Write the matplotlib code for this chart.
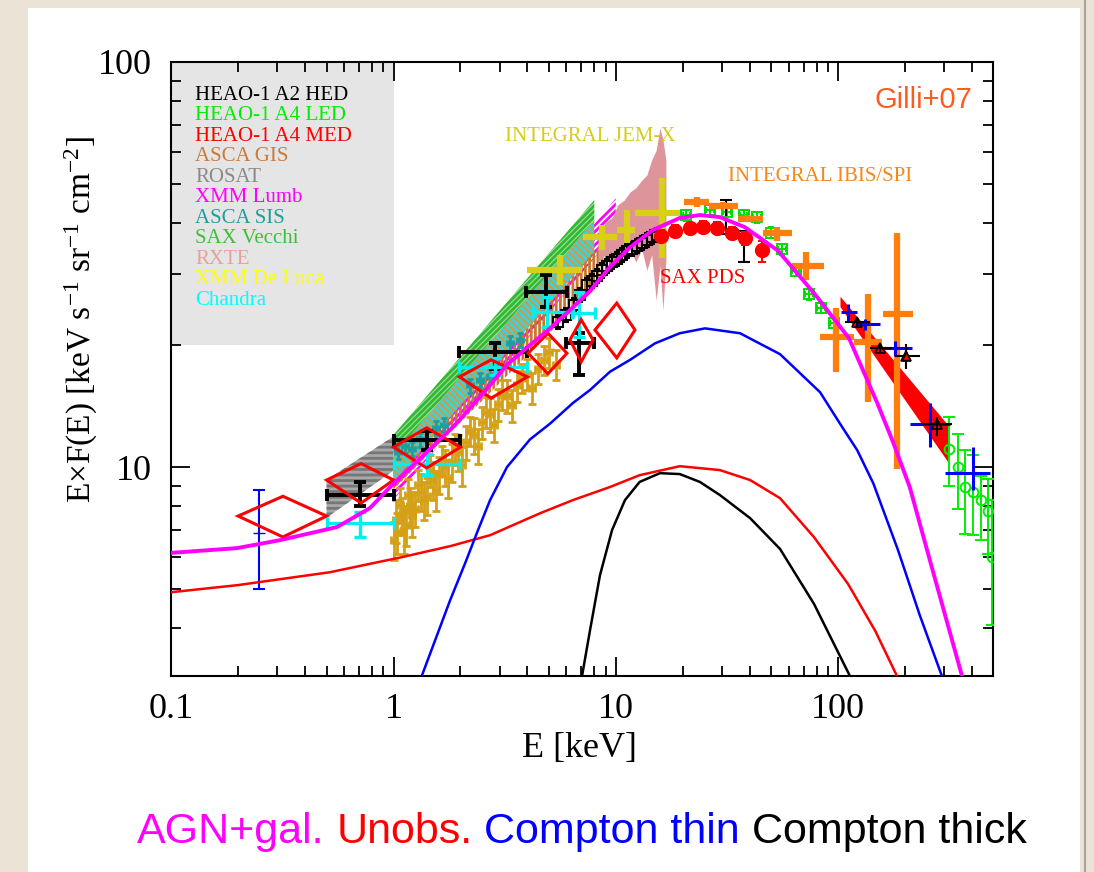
import numpy as np
import matplotlib.pyplot as plt
from matplotlib.patches import Rectangle
from matplotlib.lines import Line2D
from matplotlib.ticker import LogLocator, NullFormatter

plt.rcParams['font.family'] = 'Liberation Serif'
plt.rcParams['mathtext.fontset'] = 'custom'
plt.rcParams['mathtext.rm'] = 'Liberation Serif'
plt.rcParams['mathtext.it'] = 'Liberation Serif:italic'
plt.rcParams['hatch.linewidth'] = 2.0

# ---- model curves: E [keV], E*F(E) ----
agn_E = [0.1, 0.198, 0.308, 0.557, 0.783, 0.995, 1.32, 1.89, 2.53, 3.24, 4.11, 5.06, 6.22, 7.66,
         9.42, 11.6, 14.7, 19.4, 23.9, 29.4, 38.1, 53.7, 78.7, 112, 150, 177, 210, 264, 361]
agn_F = [6.14, 6.31, 6.60, 7.11, 7.92, 9.08, 10.5, 12.7, 15.2, 17.9, 20.0, 22.0, 24.4, 27.2,
         31.2, 34.9, 38.5, 41.2, 41.9, 41.4, 39.1, 34.2, 26.7, 20.8, 14.4, 11.5, 8.93, 5.66, 3.05]
thin_E = [1.34, 1.54, 1.80, 2.10, 2.40, 2.72, 3.24, 4.11, 5.06, 6.42, 7.66, 9.42, 11.6, 15.0,
          19.4, 25.2, 36.2, 54.8, 83.0, 102, 122, 144, 186, 233, 293]
thin_F = [3.05, 3.74, 4.70, 5.79, 6.99, 8.29, 10.0, 11.7, 12.8, 14.4, 15.5, 17.2, 18.4, 20.2,
          21.4, 22.0, 21.4, 19.0, 15.3, 12.8, 11.0, 9.12, 6.24, 4.31, 3.05]
unobs_E = [0.1, 0.198, 0.517, 1.10, 1.80, 2.72, 4.56, 6.42, 9.42, 12.8, 19.4, 29.4, 40.2, 54.8,
           78.0, 111, 147, 184]
unobs_F = [4.91, 5.11, 5.50, 6.00, 6.38, 6.79, 7.69, 8.29, 8.93, 9.55, 10.05, 9.83, 9.29, 8.38,
           6.71, 5.14, 3.94, 3.05]
thick_E = [7.05, 7.66, 8.49, 9.62, 11.0, 12.8, 15.8, 19.4, 23.9, 29.4, 40.2, 54.8, 78.0, 113]
thick_F = [3.05, 3.96, 5.41, 6.99, 8.29, 9.19, 9.66, 9.61, 9.19, 8.53, 7.48, 6.28, 4.59, 3.05]

# ---- bands ----
rosat_E, rosat_lo, rosat_hi = [0.5, 1.0], [7.5, 9.8], [9.3, 11.9]
lumb_E, lumb_lo, lumb_hi = [1.0, 10.0], [8.3, 38.0], [10.1, 46.1]
gis_E, gis_lo, gis_hi = [1.0, 10.5], [8.8, 32.1], [10.5, 39.6]
sis_E, sis_lo, sis_hi = [1.0, 8.0], [9.2, 34.0], [10.7, 40.7]
vecchi_E, vecchi_lo, vecchi_hi = [1.0, 8.0], [10.7, 40.7], [12.0, 45.6]
med_E, med_lo, med_hi = [102, 312], [24.9, 10.3], [26.4, 12.7]

rxte_E = [8.32, 8.94, 9.62, 10.2, 10.9, 11.6, 12.3, 13.1, 13.8, 14.5, 15.2, 15.8, 16.3, 16.8]
rxte_hi = [36.4, 40.3, 41.2, 44.4, 45.6, 47.8, 48.9, 51.1, 52.6, 57.3, 60.6, 68.7, 64.2, 57.3]
rxte_lo = [32.1, 33.4, 31.5, 34.4, 32.8, 34.7, 32.1, 34.4, 30.6, 33.4, 25.8, 31.5, 24.4, 32.4]

box_E, box_F = [0.1, 1.0], [20, 100]

# ---- data points ----
gold_E = [1.03, 1.07, 1.11, 1.16, 1.21, 1.29, 1.37, 1.46, 1.55, 1.65, 1.76, 1.89, 2.03, 2.21,
          2.40, 2.61, 2.83, 3.08, 3.41, 3.78, 4.20, 4.75, 5.38,
          1.00, 1.04, 1.09, 1.14, 1.19, 1.25, 1.33, 1.41, 1.50, 1.60, 1.71, 1.83, 1.96, 2.12,
          2.30, 2.50, 2.72, 2.96, 3.24, 3.60, 4.00, 4.45, 5.00]
gold_F = [7.40, 8.06, 6.99, 8.53, 7.61, 9.03, 8.29, 9.84, 8.78, 10.4, 9.39, 11.1, 10.1, 12.3,
          11.3, 13.7, 12.7, 15.1, 14.2, 16.6, 15.7, 18.4, 17.9,
          6.6, 6.9, 7.6, 7.2, 8.0, 7.9, 8.7, 8.5, 9.3, 9.6, 10.0, 10.3, 10.9, 11.5,
          12.0, 12.9, 13.5, 14.3, 15.0, 15.9, 17.0, 17.5, 19.2]
gold_dF = [0.9, 0.8, 0.9, 0.8, 0.9, 0.8, 0.9, 0.9, 1.0, 0.9, 1.0, 1.0, 1.1, 1.0,
           1.1, 1.2, 1.2, 1.3, 1.3, 1.4, 1.4, 1.5, 1.5,
           0.7, 0.8, 0.8, 0.8, 0.9, 0.8, 0.9, 0.9, 1.0, 1.0, 1.0, 1.1, 1.1, 1.1,
           1.2, 1.2, 1.3, 1.3, 1.4, 1.4, 1.5, 1.5, 1.6]

teal_E = [1.05, 1.13, 1.21, 1.32, 1.55, 1.69, 2.21, 2.45, 2.72, 3.34, 3.71]
teal_F = [10.9, 11.3, 11.1, 11.7, 12.5, 12.7, 15.9, 16.4, 16.8, 20.2, 20.6]

hed_E = [5.50, 5.97, 6.49, 6.90, 7.42, 7.81, 8.23, 8.67, 9.12, 9.62, 10.1, 10.7, 11.2, 11.8,
         12.5, 13.1, 13.8, 14.5, 15.3]
hed_F = [22.8, 23.7, 25.1, 26.6, 28.1, 28.8, 29.6, 30.6, 31.4, 32.1, 32.6, 33.4, 34.2, 34.5,
         35.1, 35.7, 36.4, 37.0, 37.4]

pds_E = [16.0, 18.4, 21.5, 24.7, 28.5, 33.3, 38.2, 45.5]
pds_F = [37.2, 38.3, 38.9, 39.2, 38.9, 37.9, 36.7, 34.3]
pds_lo = [36.0, 37.1, 37.7, 38.0, 37.6, 36.6, 35.3, 32.0]
pds_hi = [38.4, 39.5, 40.1, 40.4, 40.2, 39.2, 38.1, 36.1]

led_E = [20.8, 26.5, 31.6, 37.6, 43.3, 49.7, 56.0, 64.4, 74.0, 83.6, 95.9]
led_F = [41.8, 43.0, 42.6, 41.8, 41.4, 37.9, 34.5, 30.5, 26.7, 24.7, 22.7]
led2_E = [315, 346, 371, 405, 438, 474, 495]
led2_F = [11.1, 10.0, 8.93, 8.66, 8.27, 7.80, 6.0]
led2_lo = [8.97, 7.86, 6.85, 6.79, 6.6, 6.1, 4.07]
led2_hi = [13.3, 12.1, 11.0, 10.7, 9.5, 9.33, 8.3]

blue_E = [111, 132, 181, 259, 405]
blue_Elo = [103, 122, 156, 210, 303]
blue_Ehi = [122, 154, 215, 319, 482]
blue_F = [24.2, 22.5, 19.7, 12.8, 9.67]
blue_Flo = [22.8, 21.8, 18.8, 11.2, 8.78]
blue_Fhi = [25.3, 23.2, 20.5, 14.4, 11.2]
soft_E, soft_F, soft_lo, soft_hi = [0.249], [6.88], [5.0], [8.78]

tri_E = [122, 155, 202, 278]
tri_Elo = [107, 139, 180, 241]
tri_Ehi = [139, 175, 233, 325]
tri_F = [22.8, 19.7, 18.8, 12.8]
tri_Flo = [22.2, 19.2, 17.5, 11.9]
tri_Fhi = [23.4, 20.2, 20.1, 13.3]

ibis_E = [23.1, 30.5, 38.9, 53.1, 71.6, 97.7, 136, 184.5]
ibis_Elo = [20.3, 26.3, 35.4, 45.9, 61.8, 83.0, 118, 159]
ibis_Ehi = [26.3, 35.5, 45.9, 61.8, 86.0, 118, 158, 218]
ibis_F = [45.1, 44.2, 41.0, 37.9, 31.3, 21.0, 20.4, 23.9]
ibis_Flo = [43.9, 43.4, 40.2, 36.2, 29.0, 17.2, 14.5, 9.9]
ibis_Fhi = [46.5, 45.0, 41.8, 39.2, 33.9, 24.7, 26.7, 37.8]

jemx_E = [5.61, 8.67, 11.2, 16.1]
jemx_Elo = [4.0, 7.12, 10.1, 12.2]
jemx_Ehi = [7.05, 10.1, 12.2, 19.4]
jemx_F = [30.6, 37.0, 38.5, 42.4]
jemx_Flo = [28.1, 34.4, 35.7, 32.9]
jemx_Fhi = [33.4, 39.6, 43.2, 51.8]

a2_E = [0.71, 1.41, 2.85, 4.87, 6.86]
a2_Elo = [0.5, 1.0, 1.98, 3.96, 6.0]
a2_Ehi = [1.0, 2.0, 4.0, 6.05, 8.0]
a2_F = [8.53, 11.67, 19.2, 27.0, 20.2]
a2_Flo = [8.02, 11.0, 17.5, 24.8, 16.9]
a2_Fhi = [9.18, 12.3, 20.2, 29.8, 21.4]
k_E, k_F, k_lo, k_hi = [31.3, 37.6], [41.4, 35.2], [37.6, 32.0], [45.6, 38.3]

chan_E = [0.71, 1.41, 2.85, 4.90, 6.86]
chan_Elo = [0.5, 1.0, 1.98, 4.24, 6.35]
chan_Ehi = [1.0, 2.0, 4.0, 6.42, 8.06]
chan_F = [7.28, 10.2, 17.7, 24.2, 24.0]
chan_Flo = [6.71, 9.55, 16.9, 22.2, 20.9]
chan_Fhi = [7.75, 10.8, 18.6, 26.3, 27.0]

dia_E = [0.318, 0.715, 1.41, 2.75, 4.95, 6.99, 10.1]
dia_Elo = [0.200, 0.5, 1.0, 1.98, 4.03, 6.22, 8.06]
dia_Ehi = [0.5, 1.0, 2.0, 4.0, 6.03, 7.90, 12.2]
dia_F = [7.57, 9.29, 11.2, 16.7, 19.1, 20.6, 21.8]
dia_Flo = [6.72, 8.15, 9.95, 14.8, 17.0, 18.2, 18.6]
dia_Fhi = [8.47, 10.2, 12.5, 18.4, 21.4, 23.1, 25.4]

legend_names = ['HEAO-1 A2 HED', 'HEAO-1 A4 LED', 'HEAO-1 A4 MED', 'ASCA GIS', 'ROSAT',
                'XMM Lumb', 'ASCA SIS', 'SAX Vecchi', 'RXTE', 'XMM De Luca', 'Chandra']
legend_colors = ['black', '#00ee00', '#ff0000', '#cc7a3a', '#8a8a8a', '#ff00ff', '#1f9e9e',
                 '#3cbf3c', '#e8a0a0', '#ffff00', '#00ffff']

caption = [('AGN+gal.', '#ff00ff'), ('Unobs.', '#ff0000'),
           ('Compton thin', '#0000ff'), ('Compton thick', 'black')]

# ---- figure ----
fig = plt.figure(figsize=(10.94, 8.72), dpi=100)
fig.patch.set_facecolor('#ebe4d6')
fig.add_artist(Rectangle((0.026, 0.0), 0.961, 0.991, transform=fig.transFigure,
                         facecolor='white', edgecolor='none', zorder=-5))
fig.add_artist(Line2D([0.992, 0.992], [0, 1], transform=fig.transFigure,
                      color='#aaa49a', lw=1.5))

ax = fig.add_axes([0.1565, 0.2248, 0.7516, 0.7041])
ax.set_xscale('log')
ax.set_yscale('log')


def cross(E, F, Elo, Ehi, Flo, Fhi, color, lw, cap, z=3.5):
    E, F = np.asarray(E, float), np.asarray(F, float)
    xerr = [E - np.asarray(Elo, float), np.asarray(Ehi, float) - E]
    yerr = [F - np.asarray(Flo, float), np.asarray(Fhi, float) - F]
    ax.errorbar(E, F, xerr=xerr, yerr=yerr, fmt='none', ecolor=color, elinewidth=lw,
                capsize=cap, capthick=lw, zorder=z)


# grey legend panel
ax.fill_between(box_E, box_F[0], box_F[1], color='#e5e5e5', lw=0, zorder=0.5)

# bands
ax.fill_between(rosat_E, rosat_lo, rosat_hi, facecolor='#a8a8a8', edgecolor='#777777',
                hatch='---', lw=0, zorder=1)
ax.fill_between(lumb_E, lumb_lo, lumb_hi, facecolor='white', edgecolor='#ff00ff',
                hatch='/////', lw=0, zorder=1)
ax.fill_between(gis_E, gis_lo, gis_hi, facecolor='none', edgecolor='#c8782e',
                hatch='||||', lw=0, zorder=1.1)
ax.fill_between(sis_E, sis_lo, sis_hi, facecolor='#d49a3c', edgecolor='#40d0d8',
                hatch='\\\\\\\\\\', lw=0, zorder=1.2)
ax.fill_between(vecchi_E, vecchi_lo, vecchi_hi, facecolor='#9be09b', edgecolor='#33b833',
                hatch='//////', lw=0, zorder=1.3)
ax.fill_between(rxte_E, rxte_lo, rxte_hi, color='#de949b', lw=0, zorder=1.5)
ax.fill_between(med_E, med_lo, med_hi, color='#ff0000', lw=0, zorder=2)

# small spectral points
ax.errorbar(gold_E, gold_F, yerr=gold_dF, xerr=np.asarray(gold_E) * 0.03, fmt='none',
            ecolor='#d4a017', elinewidth=2.0, capsize=3, capthick=2.0, zorder=2.5)
ax.errorbar(teal_E, teal_F, yerr=np.asarray(teal_F) * 0.04, xerr=np.asarray(teal_E) * 0.03,
            fmt='none', ecolor='#1f9e9e', elinewidth=2.0, capsize=2.5, capthick=2.0, zorder=2.6)
ax.errorbar(hed_E, hed_F, yerr=np.asarray(hed_F) * 0.04, fmt='s', ms=7, mfc='none',
            mec='black', mew=1.5, ecolor='black', elinewidth=1.2, capsize=2, zorder=3)

# crosses
cross(a2_E, a2_F, a2_Elo, a2_Ehi, a2_Flo, a2_Fhi, 'black', 2.8, 4)
cross(chan_E, chan_F, chan_Elo, chan_Ehi, chan_Flo, chan_Fhi, '#00f0f0', 2.4, 4)
cross(jemx_E, jemx_F, jemx_Elo, jemx_Ehi, jemx_Flo, jemx_Fhi, '#d8d018', 4.5, 0, z=3.6)
cross(ibis_E, ibis_F, ibis_Elo, ibis_Ehi, ibis_Flo, ibis_Fhi, '#ff7f0e', 4.5, 0, z=3.6)
ax.errorbar(k_E, k_F, yerr=[np.subtract(k_F, k_lo), np.subtract(k_hi, k_F)], fmt='none',
            ecolor='black', elinewidth=1.5, capsize=4, capthick=1.5, zorder=3.4)

ax.errorbar(led_E, led_F, yerr=np.asarray(led_F) * 0.03, xerr=np.asarray(led_E) * 0.04,
            fmt='s', ms=7, mfc='none', mec='#00dd00', mew=1.4, ecolor='#00dd00',
            elinewidth=1.4, capsize=2, zorder=3.3)
ax.errorbar(led2_E, led2_F, yerr=[np.subtract(led2_F, led2_lo), np.subtract(led2_hi, led2_F)],
            fmt='o', ms=7, mfc='none', mec='#00ee00', mew=1.4, ecolor='#00ee00',
            elinewidth=1.4, capsize=4, capthick=1.4, zorder=3.3)
ax.errorbar(pds_E, pds_F, yerr=[np.subtract(pds_F, pds_lo), np.subtract(pds_hi, pds_F)],
            xerr=np.asarray(pds_E) * 0.04, fmt='o', ms=10, color='red', elinewidth=1.4,
            capsize=3, capthick=1.4, zorder=3.7)

cross(blue_E, blue_F, blue_Elo, blue_Ehi, blue_Flo, blue_Fhi, '#0000ff', 2.2, 0, z=3.8)
ax.errorbar(soft_E, soft_F, yerr=[np.subtract(soft_F, soft_lo), np.subtract(soft_hi, soft_F)],
            fmt='_', ms=8, color='#0000ff', elinewidth=1.5, capsize=4, capthick=1.5, zorder=3.8)
cross(tri_E, tri_F, tri_Elo, tri_Ehi, tri_Flo, tri_Fhi, 'black', 1.5, 0, z=3.9)
ax.plot(tri_E, tri_F, '^', ms=7, mfc='none', mec='black', mew=1.2, zorder=3.9)
ax.plot(tri_E[2:3], tri_F[2:3], '^', ms=6, mfc='red', mec='black', mew=1.0, zorder=3.95)

# error boxes (diamonds)
for e, f, el, eh, fl, fh in zip(dia_E, dia_F, dia_Elo, dia_Ehi, dia_Flo, dia_Fhi):
    ax.fill([el, e, eh, e], [f, fh, f, fl], fill=False, edgecolor='red', lw=2.2, zorder=4)

# model curves
ax.plot(unobs_E, unobs_F, color='#ff0000', lw=1.8, zorder=5)
ax.plot(thin_E, thin_F, color='#0000ff', lw=1.8, zorder=5)
ax.plot(thick_E, thick_F, color='black', lw=1.8, zorder=5)
ax.plot(agn_E, agn_F, color='#ff00ff', lw=2.8, zorder=5.1)

# axes styling
ax.set_xlim(0.1, 500)
ax.set_ylim(3.05, 100)
ax.set_xticks([0.1, 1, 10, 100], ['0.1', '1', '10', '100'])
ax.set_yticks([10, 100], ['10', '100'])
ax.xaxis.set_minor_locator(LogLocator(base=10, subs=np.arange(2, 10)))
ax.yaxis.set_minor_locator(LogLocator(base=10, subs=np.arange(2, 10)))
ax.xaxis.set_minor_formatter(NullFormatter())
ax.yaxis.set_minor_formatter(NullFormatter())
ax.tick_params(which='both', direction='in', top=True, right=True, width=1.3)
ax.tick_params(which='major', length=14, labelsize=26)
ax.tick_params(which='minor', length=7)
ax.tick_params(axis='x', pad=12)
ax.tick_params(axis='y', pad=14)
for s in ax.spines.values():
    s.set_linewidth(1.5)

ax.set_xlabel('E [keV]', fontsize=26)
ax.set_ylabel('E×F(E) [keV s$^{-1}$ sr$^{-1}$ cm$^{-2}$]', fontsize=24)
ax.xaxis.set_label_coords(0.497, -0.091)
ax.yaxis.set_label_coords(-0.087, 0.58)

# annotations
for i, (name, col) in enumerate(zip(legend_names, legend_colors)):
    ax.text(0.029, 0.946 - i * 0.0334, name, transform=ax.transAxes, color=col,
            fontsize=15, va='center', ha='left', zorder=6)
ax.text(0.974, 0.938, 'Gilli+07', transform=ax.transAxes, color='#ff5a1e', fontsize=21,
        family='Liberation Sans', ha='right', va='center', zorder=6)
ax.text(0.406, 0.878, 'INTEGRAL JEM-X', transform=ax.transAxes, color='#d6cc1e',
        fontsize=15, va='center', zorder=6)
ax.text(0.677, 0.813, 'INTEGRAL IBIS/SPI', transform=ax.transAxes, color='#f7861c',
        fontsize=15, va='center', zorder=6)
ax.text(0.594, 0.648, 'SAX PDS', transform=ax.transAxes, color='red',
        fontsize=15, va='center', zorder=6)

# coloured caption below the plot
t = fig.text(0.125, 0.023, caption[0][0], color=caption[0][1], fontsize=31,
             family='Liberation Sans', va='bottom', ha='left')
for s, c in caption[1:]:
    t = ax.annotate(s, xy=(1, 0), xycoords=t, xytext=(8.6, 0), textcoords='offset points',
                    color=c, fontsize=31, family='Liberation Sans', va='bottom', ha='left',
                    annotation_clip=False)

fig.savefig('out.png', dpi=100, facecolor=fig.get_facecolor())
